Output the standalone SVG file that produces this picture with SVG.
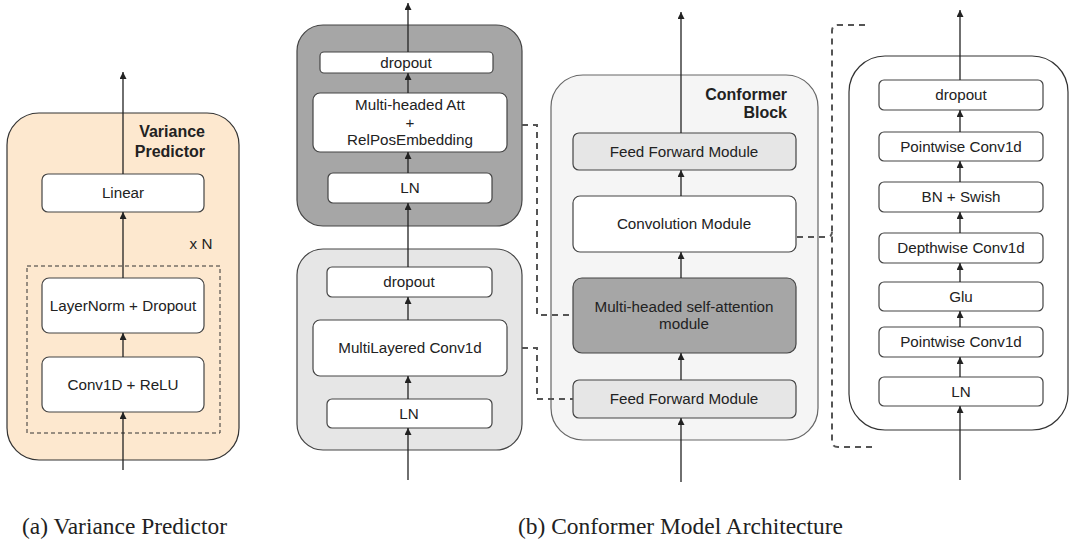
<svg xmlns="http://www.w3.org/2000/svg" width="1072" height="547" viewBox="0 0 1072 547">
<defs>
<marker id="ah" markerWidth="8" markerHeight="7" refX="7" refY="3.5" orient="auto" markerUnits="userSpaceOnUse">
<path d="M0,0 L7,3.5 L0,7 z" fill="#222"/>
</marker>
<style>
text{font-family:"Liberation Sans",Arial,sans-serif;fill:#222;}
.t{font-size:15.2px;text-anchor:middle;}
.b{font-size:16px;font-weight:bold;text-anchor:end;}
.cap{font-family:"Liberation Serif","Times New Roman",serif;font-size:23px;}
.box{stroke:#444;stroke-width:1.2;}
.w{fill:#fff;}
.lg{fill:#e6e6e6;}
.dg{fill:#a6a6a6;}
.arr{stroke:#222;stroke-width:1.3;fill:none;marker-end:url(#ah);}
.dash{stroke:#555;stroke-width:2;fill:none;stroke-dasharray:6 5;}
</style>
</defs>
<rect width="1072" height="547" fill="#fff"/>

<!-- Variance predictor -->
<g id="variance-predictor">
<rect x="7" y="113" width="232" height="347" rx="32" fill="#fde8cf" stroke="#333" stroke-width="1.2"/>
<text class="b" x="205" y="137">Variance</text>
<text class="b" x="205" y="157">Predictor</text>
<text class="t" x="201" y="249">x N</text>
<rect x="27" y="266" width="193" height="167" fill="none" stroke="#333" stroke-width="1" stroke-dasharray="4 3"/>
</g>
<g id="vp-linear"><rect class="box w" x="42" y="174" width="162" height="38" rx="6"/><text class="t" x="123" y="198">Linear</text></g>
<g id="vp-layernorm"><rect class="box w" x="42" y="278" width="162" height="55" rx="7"/><text class="t" x="123" y="311">LayerNorm + Dropout</text></g>
<g id="vp-conv"><rect class="box w" x="42" y="357" width="162" height="55" rx="7"/><text class="t" x="123" y="390">Conv1D + ReLU</text></g>

<!-- Conformer left column -->
<g id="mha-block"><rect x="297" y="25" width="225" height="201" rx="26" fill="#a6a6a6" stroke="#444" stroke-width="1.2"/></g>
<g id="mha-dropout"><rect class="box w" x="320" y="52" width="173" height="21" rx="4"/><text class="t" x="406" y="67.5">dropout</text></g>
<g id="mha-att"><rect class="box w" x="313" y="93" width="194" height="59" rx="7"/>
<text class="t" x="410" y="110">Multi-headed Att</text><text class="t" x="410" y="128">+</text><text class="t" x="410" y="145">RelPosEmbedding</text></g>
<g id="mha-ln"><rect class="box w" x="328" y="173" width="164" height="30" rx="5"/><text class="t" x="410" y="193">LN</text></g>

<g id="conv-block"><rect x="297" y="249" width="225" height="201" rx="26" fill="#e6e6e6" stroke="#444" stroke-width="1.2"/></g>
<g id="conv-dropout"><rect class="box w" x="327" y="267" width="165" height="30" rx="5"/><text class="t" x="409" y="287">dropout</text></g>
<g id="conv-multi"><rect class="box w" x="313" y="320" width="194" height="56" rx="7"/><text class="t" x="410" y="353">MultiLayered Conv1d</text></g>
<g id="conv-ln"><rect class="box w" x="327" y="399" width="165" height="29" rx="5"/><text class="t" x="409" y="419">LN</text></g>

<!-- Conformer block -->
<g id="conformer-block"><rect x="551" y="75" width="267" height="365" rx="32" fill="#f5f5f5" stroke="#666" stroke-width="1.2"/>
<text class="b" x="787" y="100">Conformer</text><text class="b" x="787" y="118">Block</text></g>
<g id="cb-ffm-top"><rect class="box lg" x="573" y="133" width="223" height="37" rx="6"/><text class="t" x="684" y="156.5">Feed Forward Module</text></g>
<g id="cb-conv"><rect class="box w" x="573" y="196" width="223" height="56" rx="7"/><text class="t" x="684" y="229">Convolution Module</text></g>
<g id="cb-mhsa"><rect class="box dg" x="573" y="278" width="223" height="75" rx="9"/>
<text class="t" x="684" y="312">Multi-headed self-attention</text><text class="t" x="684" y="329">module</text></g>
<g id="cb-ffm-bottom"><rect class="box lg" x="573" y="380" width="223" height="38" rx="6"/><text class="t" x="684" y="404">Feed Forward Module</text></g>

<!-- Convolution module detail -->
<g id="conv-detail"><rect x="849" y="56" width="219" height="374" rx="36" fill="#fff" stroke="#333" stroke-width="1.2"/></g>
<g id="cd-dropout"><rect class="box w" x="879" y="80" width="164" height="30" rx="5"/><text class="t" x="961" y="100">dropout</text></g>
<g id="cd-pw2"><rect class="box w" x="879" y="132" width="164" height="29" rx="5"/><text class="t" x="961" y="151.5">Pointwise Conv1d</text></g>
<g id="cd-bn"><rect class="box w" x="879" y="182" width="164" height="30" rx="5"/><text class="t" x="961" y="202">BN + Swish</text></g>
<g id="cd-dw"><rect class="box w" x="879" y="233" width="164" height="30" rx="5"/><text class="t" x="961" y="253">Depthwise Conv1d</text></g>
<g id="cd-glu"><rect class="box w" x="879" y="282" width="164" height="29" rx="5"/><text class="t" x="961" y="301.5">Glu</text></g>
<g id="cd-pw1"><rect class="box w" x="879" y="327" width="164" height="30" rx="5"/><text class="t" x="961" y="347">Pointwise Conv1d</text></g>
<g id="cd-ln"><rect class="box w" x="879" y="377" width="164" height="29" rx="5"/><text class="t" x="961" y="396.5">LN</text></g>

<!-- connectors -->
<g id="connectors">
<line class="arr" x1="123" y1="470" x2="123" y2="412"/>
<line class="arr" x1="123" y1="357" x2="123" y2="333"/>
<line class="arr" x1="123" y1="278" x2="123" y2="212"/>
<line class="arr" x1="123" y1="174" x2="123" y2="72"/>

<line class="arr" x1="408" y1="480" x2="408" y2="428"/>
<line class="arr" x1="408" y1="399" x2="408" y2="376"/>
<line class="arr" x1="408" y1="320" x2="408" y2="297"/>
<line class="arr" x1="408" y1="267" x2="408" y2="203"/>
<line class="arr" x1="408" y1="173" x2="408" y2="152"/>
<line class="arr" x1="408" y1="93" x2="408" y2="73"/>
<line class="arr" x1="408" y1="52" x2="408" y2="3"/>

<line class="arr" x1="681" y1="482" x2="681" y2="418"/>
<line class="arr" x1="681" y1="380" x2="681" y2="353"/>
<line class="arr" x1="681" y1="278" x2="681" y2="252"/>
<line class="arr" x1="681" y1="196" x2="681" y2="170"/>
<line class="arr" x1="681" y1="133" x2="681" y2="12"/>

<line class="arr" x1="960" y1="480" x2="960" y2="406"/>
<line class="arr" x1="960" y1="377" x2="960" y2="357"/>
<line class="arr" x1="960" y1="327" x2="960" y2="311"/>
<line class="arr" x1="960" y1="282" x2="960" y2="263"/>
<line class="arr" x1="960" y1="233" x2="960" y2="212"/>
<line class="arr" x1="960" y1="182" x2="960" y2="161"/>
<line class="arr" x1="960" y1="132" x2="960" y2="110"/>
<line class="arr" x1="960" y1="80" x2="960" y2="10"/>

<path class="dash" d="M522,125 H537 V315 H573"/>
<path class="dash" d="M522,348 H537 V399 H573"/>
<path class="dash" d="M865,25 H838 Q832,25 832,31 V441 Q832,447 838,447 H872"/>
<path class="dash" d="M797,237 H826 Q832,237 832,232"/>
</g>

<text class="cap" x="22" y="534" textLength="205" lengthAdjust="spacingAndGlyphs">(a) Variance Predictor</text>
<text class="cap" x="518" y="534" textLength="325" lengthAdjust="spacingAndGlyphs">(b) Conformer Model Architecture</text>
</svg>
